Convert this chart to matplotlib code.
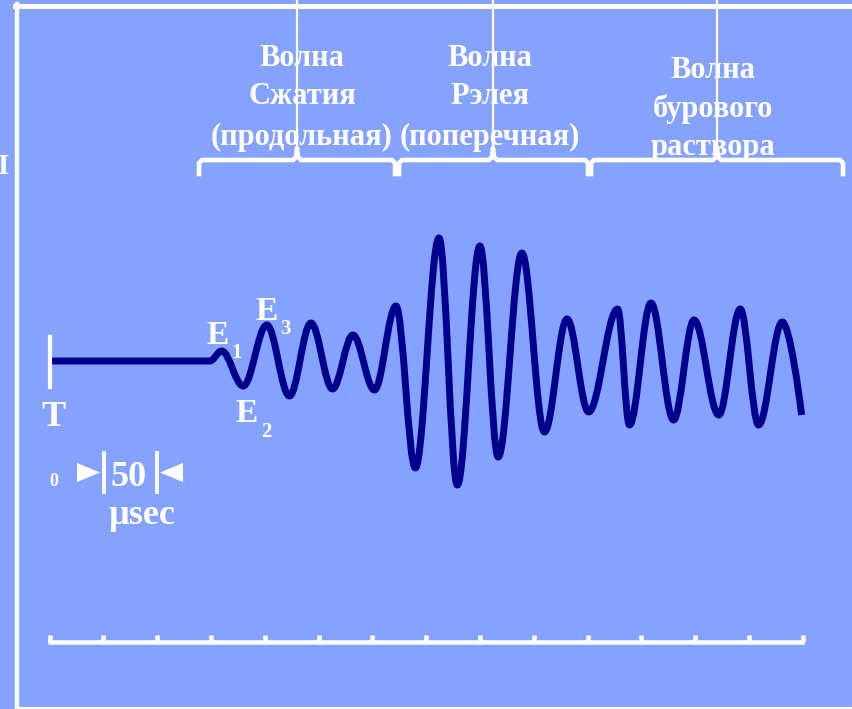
import numpy as np
import matplotlib.pyplot as plt
from matplotlib.path import Path
from matplotlib.patches import PathPatch, Polygon

# Экстремумы сигнала: время (мкс) и амплитуда (усл. ед.)
t_us = [1, 149, 160, 180, 202, 223, 243, 263, 282, 302, 322, 340, 362, 379,
        400, 417, 439, 460, 481, 501, 528, 539, 559, 580, 599, 622, 642, 659, 681, 699]
amp = [0, 0, 1.0, -2.5, 3.6, -3.5, 3.8, -2.8, 2.6, -2.9, 5.5, -10.7, 12.3, -12.4,
       11.5, -9.6, 10.8, -7.1, 4.2, -5.1, 5.2, -6.4, 5.8, -5.9, 4.1, -5.4, 5.2, -6.4, 3.9, -5.4]

# Шкала времени
scale_ticks = [0, 50, 100, 150, 200, 250, 300, 350, 400, 450, 500, 550, 600, 650, 700]

# Подписи волн
wave_labels = [["Волна", "Сжатия", "(продольная)"],
               ["Волна", "Рэлея", "(поперечная)"],
               ["Волна", "бурового", "раствора"]]

BG = '#86A2FF'
NAVY = '#00008C'
W = 'white'
FONT = ['Liberation Serif', 'DejaVu Serif']

fig = plt.figure(figsize=(8.52, 7.09), dpi=100)
fig.patch.set_facecolor(BG)

# фон и оформление в пикселях
lay = fig.add_axes([0, 0, 1, 1])
lay.set_xlim(0, 852)
lay.set_ylim(709, 0)
lay.set_facecolor(BG)
lay.axis('off')

# рамка
lay.plot([17, 17], [3.5, 709], color=W, lw=3.2)
lay.plot([15, 852], [5.5, 5.5], color=W, lw=3.6)
lay.plot([17, 852], [707.5, 707.5], color=W, lw=1.5)
lay.text(4, 167, "I", color=W, fontsize=21, family=FONT, weight='bold', ha='center', va='center')

# фигурные скобки
brackets = [(199, 297, 395), (399, 493, 588), (591, 717, 843)]
for left, mid, right in brackets:
    xs = [left, left, left + 3, mid - 4, mid - 1, mid, mid, mid + 1, mid + 4, right - 3, right, right]
    ys = [174, 163, 160, 160, 157, 148, 148, 157, 160, 160, 163, 174]
    lay.plot(xs, ys, color=W, lw=3.3, solid_joinstyle='round')
    lay.plot([mid, mid], [0, 150], color=W, lw=1.6)

col_x = [302, 490, 713]
col_y = [[58, 96, 137], [58, 96, 137], [71, 109, 148]]
for cx, cy, lines in zip(col_x, col_y, wave_labels):
    for y, s in zip(cy, lines):
        lay.text(cx, y, s, color=W, fontsize=22, family=FONT, weight='bold',
                 ha='center', va='center')

# метки
lay.text(53, 417, "T", color=W, fontsize=26, family=FONT, weight='bold', ha='center', va='center')
lay.text(54, 481, "0", color=W, fontsize=13, family=FONT, weight='bold', ha='center', va='center')
lay.add_patch(Polygon([[77, 463], [100, 472.5], [77, 482]], color=W, lw=0))
lay.plot([104, 104], [453, 492], color=W, lw=2.8)
lay.text(129, 478, "50", color=W, fontsize=26, family=FONT, weight='bold', ha='center', va='center')
lay.plot([157, 157], [453, 492], color=W, lw=2.8)
lay.add_patch(Polygon([[183, 463], [160, 472.5], [183, 482]], color=W, lw=0))
lay.text(142, 516, "µsec", color=W, fontsize=26, family=FONT, weight='bold', ha='center', va='center')

for x, y, sx, sy, n in [(218, 336, 237, 353, "1"), (247, 413, 266, 432, "2"), (267, 311, 285, 329, "3")]:
    lay.text(x, y, "E", color=W, fontsize=24, family=FONT, weight='bold', ha='center', va='center')
    lay.text(sx, sy, n, color=W, fontsize=15, family=FONT, weight='bold', ha='center', va='center')

# сигнал в координатах время/амплитуда
ax = fig.add_axes([0, 0, 1, 1])
ax.set_facecolor('none')
px_per_us = 1.076
x0 = 49.5
ax.set_xlim(-x0 / px_per_us, (852 - x0) / px_per_us)
ax.set_ylim((361 - 709) / 10, 361 / 10)
ax.axis('off')

k = 0.36
verts = [(t_us[0], amp[0]), (t_us[1], amp[1])]
codes = [Path.MOVETO, Path.LINETO]
n = len(t_us)
for i in range(1, n - 1):
    dt = t_us[i + 1] - t_us[i]
    c1 = (t_us[i] + k * dt, amp[i])
    if i == n - 2:
        c2 = (t_us[i + 1] - 0.12 * dt, amp[i + 1] + 2.0)
    else:
        c2 = (t_us[i + 1] - k * dt, amp[i + 1])
    verts += [c1, c2, (t_us[i + 1], amp[i + 1])]
    codes += [Path.CURVE4] * 3
ax.add_patch(PathPatch(Path(verts, codes), fill=False, edgecolor=NAVY, lw=5.0,
                       capstyle='butt', joinstyle='round'))

# отметка T0
ax.plot([0, 0], [2.4, -2.6], color=W, lw=3)

# шкала внизу
bar_y = (361 - 641.5) / 10
ax.plot([scale_ticks[0] - 1.5, scale_ticks[-1] + 1.5], [bar_y, bar_y], color=W, lw=3.3, solid_capstyle='butt')
ax.vlines(scale_ticks, bar_y, bar_y + 0.65, color=W, lw=3.3)

fig.savefig('out.png', dpi=100, facecolor=BG)
